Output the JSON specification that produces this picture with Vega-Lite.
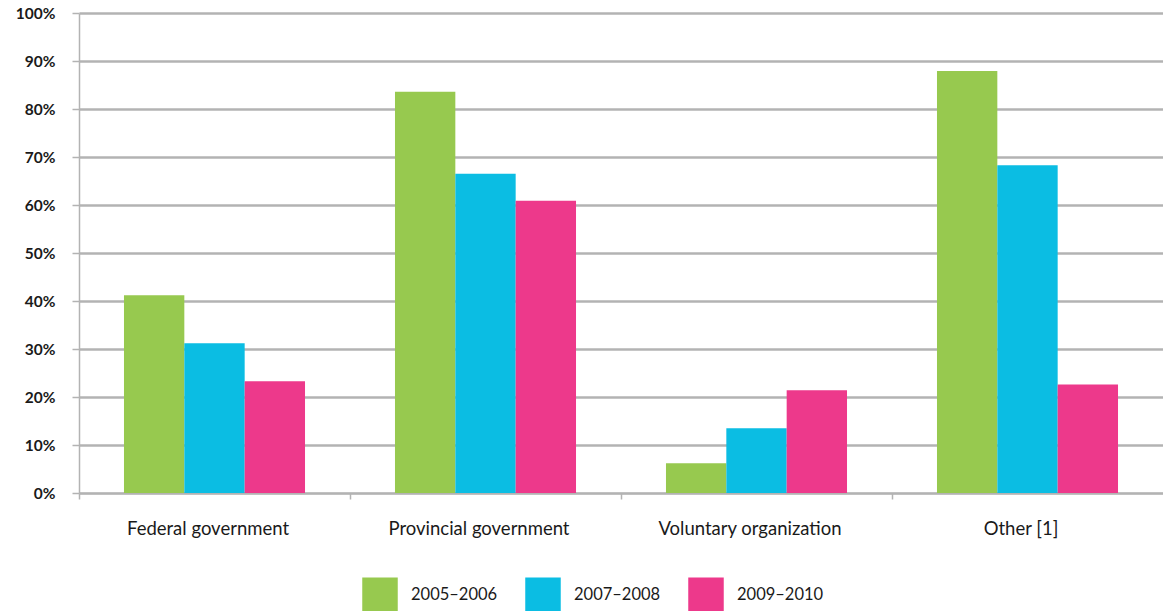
{
  "$schema": "https://vega.github.io/schema/vega-lite/v6.json",
  "width": 1084,
  "height": 480,
  "autosize": {"type": "none"},
  "padding": {"left": 79, "top": 13, "right": 0, "bottom": 118},
  "background": "white",
  "config": {
    "font": "Lato",
    "view": {"stroke": null}
  },
  "data": {
    "values": [
      {"category": "Federal government", "period": "2005–2006", "value": 41.2},
      {"category": "Federal government", "period": "2007–2008", "value": 31.2},
      {"category": "Federal government", "period": "2009–2010", "value": 23.3},
      {"category": "Provincial government", "period": "2005–2006", "value": 83.6},
      {"category": "Provincial government", "period": "2007–2008", "value": 66.5},
      {"category": "Provincial government", "period": "2009–2010", "value": 60.9},
      {"category": "Voluntary organization", "period": "2005–2006", "value": 6.2},
      {"category": "Voluntary organization", "period": "2007–2008", "value": 13.5},
      {"category": "Voluntary organization", "period": "2009–2010", "value": 21.4},
      {"category": "Other [1]", "period": "2005–2006", "value": 87.9},
      {"category": "Other [1]", "period": "2007–2008", "value": 68.3},
      {"category": "Other [1]", "period": "2009–2010", "value": 22.6}
    ]
  },
  "mark": {"type": "bar"},
  "encoding": {
    "x": {
      "field": "category",
      "type": "nominal",
      "sort": null,
      "scale": {"paddingInner": 0.332, "paddingOuter": 0.166},
      "axis": {
        "title": null,
        "labelAngle": 0,
        "labelFontSize": 18.5,
        "labelLimit": 400,
        "labelColor": "#1a1a1a",
        "labelPadding": 20,
        "domainColor": "#b3b3b3",
        "domainWidth": 1.5,
        "tickColor": "#b3b3b3",
        "tickWidth": 1.5,
        "tickSize": 6,
        "tickOffset": -135.5,
        "labelOffset": 128.5,
        "grid": false
      }
    },
    "xOffset": {
      "field": "period",
      "type": "nominal",
      "scale": {"paddingInner": 0, "paddingOuter": 0}
    },
    "y": {
      "field": "value",
      "type": "quantitative",
      "scale": {"domain": [0, 100], "nice": false},
      "axis": {
        "title": null,
        "values": [0, 10, 20, 30, 40, 50, 60, 70, 80, 90, 100],
        "labelExpr": "datum.value + '%'",
        "labelFontSize": 15.5,
        "labelFontWeight": "bold",
        "labelColor": "#1a1a1a",
        "labelPadding": 17,
        "domainColor": "#b3b3b3",
        "domainWidth": 1.5,
        "tickColor": "#b3b3b3",
        "tickWidth": 1.5,
        "tickSize": 7,
        "gridColor": "#b3b3b3",
        "gridWidth": 2.5
      }
    },
    "color": {
      "field": "period",
      "type": "nominal",
      "scale": {
        "domain": ["2005–2006", "2007–2008", "2009–2010"],
        "range": ["#97c94f", "#0bbde3", "#ed398b"]
      },
      "legend": {
        "title": null,
        "orient": "none",
        "direction": "horizontal",
        "legendX": 283,
        "legendY": 564,
        "symbolType": "square",
        "symbolSize": 1260,
        "symbolStrokeWidth": 0,
        "symbolOpacity": 1,
        "labelFontSize": 16.5,
        "labelColor": "#1a1a1a",
        "labelOffset": 13,
        "columnPadding": 27
      }
    }
  }
}
